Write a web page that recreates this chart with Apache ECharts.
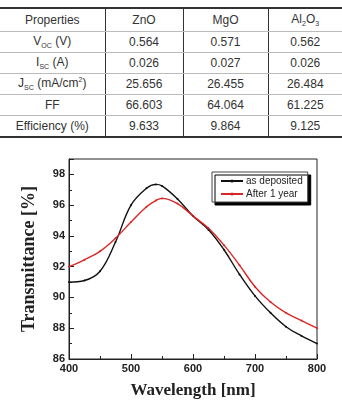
<!DOCTYPE html>
<html>
<head>
<meta charset="utf-8">
<script src="https://cdn.jsdelivr.net/npm/echarts@6/dist/echarts.min.js"></script>
<style>
  html, body { margin: 0; padding: 0; background: #fff; }
  #wrap { position: relative; width: 342px; height: 404px; overflow: hidden; }
  #chart { position: absolute; left: 0; top: 0; width: 342px; height: 404px; }
  table {
    position: absolute; left: 0; top: 7px; width: 342px; table-layout: fixed;
    border-collapse: collapse; font-family: "Liberation Sans", Arial, sans-serif;
    font-size: 12px; color: #333; z-index: 2; background: #fff;
  }
  td { text-align: center; padding: 0; height: 20px; border-bottom: 1px solid #bbb; border-left: 1px solid #333; }
  td:first-child { border-left: none; }
  tr:first-child td { height: 22px; border-top: 2px solid #333; }
  tr:last-child td { border-bottom: 2px solid #333; }
  sub, sup { font-size: 7px; }
</style>
</head>
<body>
<div id="wrap">
  <table id="props">
    <colgroup><col style="width:105px"><col style="width:78px"><col style="width:85px"><col style="width:74px"></colgroup>
    <tbody id="rows"></tbody>
  </table>
  <div id="chart"></div>
</div>
<script>
// table text
const tableHead = ["Properties", "ZnO", "MgO", "Al<sub>2</sub>O<sub>3</sub>"];
const rowNames = ["V<sub>OC</sub> (V)", "I<sub>SC</sub> (A)", "J<sub>SC</sub> (mA/cm<sup>2</sup>)", "FF", "Efficiency (%)"];
const znoVals = ["0.564", "0.026", "25.656", "66.603", "9.633"];
const mgoVals = ["0.571", "0.027", "26.455", "64.064", "9.864"];
const alVals = ["0.562", "0.026", "26.484", "61.225", "9.125"];

// chart data
const wavelengths = [400, 425, 450, 475, 500, 525, 540, 550, 575, 600, 625, 650, 675, 700, 725, 750, 775, 800];
const asDeposited = [91.0, 91.1, 91.7, 93.6, 96.0, 97.1, 97.35, 97.25, 96.4, 95.3, 94.4, 93.1, 91.5, 90.1, 89.0, 88.1, 87.5, 87.0];
const afterYear = [92.0, 92.45, 93.0, 93.85, 94.9, 95.9, 96.3, 96.44, 96.1, 95.3, 94.5, 93.4, 92.1, 90.7, 89.7, 89.0, 88.5, 88.0];

const row = (cells) => "<tr>" + cells.map((t) => "<td>" + t + "</td>").join("") + "</tr>";
let html = row(tableHead);
for (let i = 0; i < rowNames.length; i++) {
  html += row([rowNames[i], znoVals[i], mgoVals[i], alVals[i]]);
}
document.getElementById("rows").innerHTML = html;

const chart = echarts.init(document.getElementById("chart"), null, { renderer: "canvas" });
const axisFont = { fontFamily: "Liberation Sans, Arial", fontWeight: "bold", fontSize: 11, color: "#222" };
const nameFont = { fontFamily: "Liberation Serif, Times New Roman, serif", fontWeight: "bold", color: "#222" };

chart.setOption({
  animation: false,
  grid: { left: 69, right: 25, top: 159, bottom: 42, show: true, borderColor: "#222", borderWidth: 1 },
  legend: {
    orient: "vertical",
    left: 212,
    top: 172,
    padding: [4, 5, 3, 8],
    itemGap: 3,
    itemWidth: 22,
    itemHeight: 4,
    backgroundColor: "#fff",
    borderColor: "#444",
    borderWidth: 1,
    shadowColor: "#000",
    shadowOffsetX: 3,
    shadowOffsetY: 3,
    shadowBlur: 0,
    textStyle: { fontFamily: "Liberation Sans, Arial", fontSize: 10, color: "#222", padding: [0, 0, 0, -2] },
    data: ["as deposited", "After 1 year"],
  },
  xAxis: {
    type: "value",
    min: 400,
    max: 800,
    interval: 100,
    name: "Wavelength [nm]",
    nameLocation: "middle",
    nameGap: 23,
    nameTextStyle: { ...nameFont, fontSize: 17 },
    axisLine: { lineStyle: { color: "#222", width: 1 } },
    axisTick: { inside: true, length: 5, lineStyle: { color: "#222" } },
    minorTick: { show: true, splitNumber: 2, length: 3, lineStyle: { color: "#222" } },
    axisLabel: { ...axisFont, margin: 4 },
    splitLine: { show: false },
  },
  yAxis: {
    type: "value",
    min: 86,
    max: 99,
    interval: 2,
    name: "Transmittance [%]",
    nameLocation: "middle",
    nameGap: 31,
    nameTextStyle: { ...nameFont, fontSize: 18 },
    axisLine: { show: true, lineStyle: { color: "#222", width: 1 } },
    axisTick: { inside: true, length: 5, lineStyle: { color: "#222" } },
    minorTick: { show: true, splitNumber: 2, length: 3, lineStyle: { color: "#222" } },
    axisLabel: { ...axisFont, margin: 4, showMaxLabel: false },
    splitLine: { show: false },
  },
  series: [
    {
      name: "as deposited",
      type: "line",
      smooth: 0.4,
      data: wavelengths.map((w, i) => [w, asDeposited[i]]),
      symbol: "circle",
      symbolSize: 2,
      color: "#111",
      lineStyle: { width: 1.4, color: "#111" },
    },
    {
      name: "After 1 year",
      type: "line",
      smooth: 0.4,
      data: wavelengths.map((w, i) => [w, afterYear[i]]),
      symbol: "circle",
      symbolSize: 2,
      color: "#d92626",
      lineStyle: { width: 1.4, color: "#d92626" },
    },
  ],
});
</script>
</body>
</html>
